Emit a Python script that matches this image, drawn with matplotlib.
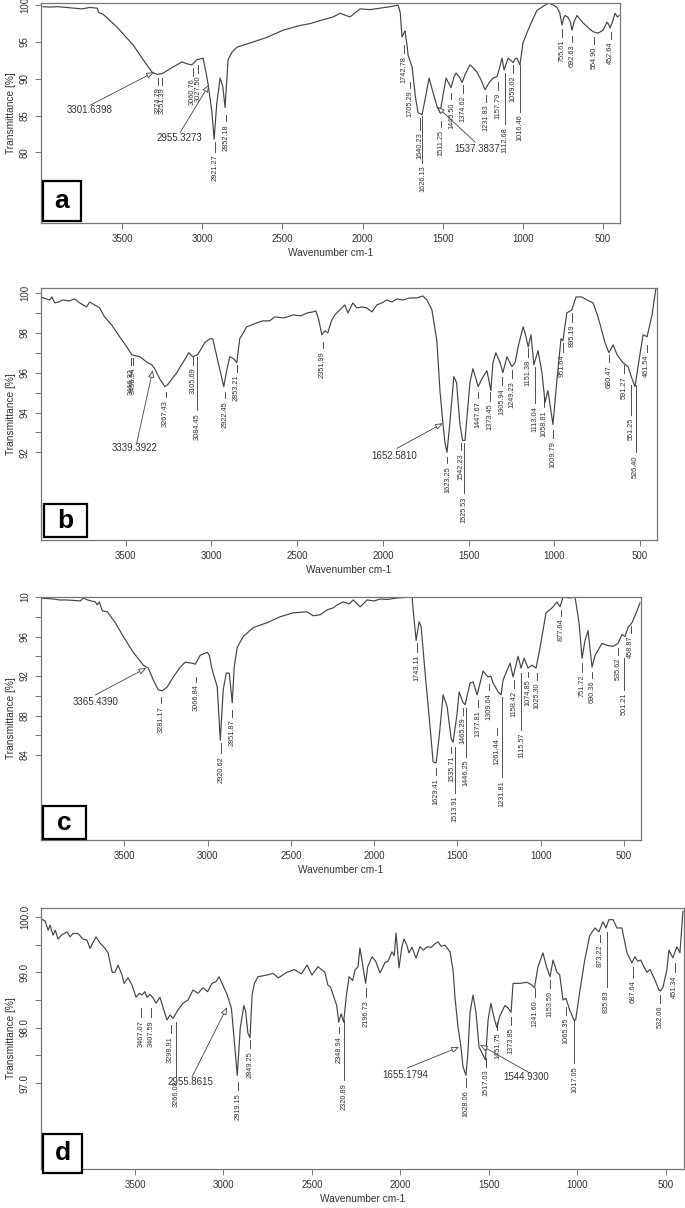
import matplotlib
matplotlib.use('Agg')
import matplotlib.pyplot as plt
from matplotlib.patches import Rectangle
from matplotlib import transforms

plt.rcParams['font.family'] = ['Liberation Sans', 'DejaVu Sans']

# ---- spectrum a ----
wn_a = [3994, 3950, 3900, 3850, 3800, 3750, 3700, 3656, 3645, 3620, 3531, 3431, 3369, 3313, 3282, 3250,
        3182, 3126, 3090, 3064, 3033, 2995, 2976, 2963, 2940, 2926, 2910, 2889, 2872, 2858, 2848, 2839,
        2815, 2783, 2683, 2600, 2496, 2400, 2327, 2250, 2184, 2140, 2078, 2016, 1953, 1890, 1828, 1778,
        1765, 1754, 1740, 1735, 1722, 1716, 1691, 1670, 1654, 1629, 1610, 1585, 1560, 1535, 1517, 1500,
        1479, 1465, 1448, 1430, 1417, 1395, 1379, 1360, 1330, 1310, 1286, 1260, 1236, 1210, 1186, 1161,
        1145, 1130, 1117, 1105, 1092, 1075, 1061, 1048, 1036, 1018, 999, 968, 940, 912, 862, 837,
        810, 787, 770, 756, 745, 737, 720, 705, 693, 680, 662, 640, 625, 600, 580, 562,
        531, 500, 475, 465, 456, 440, 425, 410, 400]
t_a = [99.8, 99.75, 99.8, 99.7, 99.6, 99.5, 99.7, 99.6, 99.0, 98.8, 97.0, 94.6, 92.6, 90.9, 90.6, 90.7,
       91.6, 92.3, 92.0, 91.9, 92.6, 92.8, 90.8, 89.2, 85.5, 81.8, 86.5, 90.1, 89.0, 86.1, 89.5, 92.6,
       93.6, 94.3, 95.0, 95.6, 96.6, 97.2, 97.5, 98.0, 98.4, 98.9, 98.4, 99.5, 99.4, 99.6, 99.8, 100.0,
       99.0, 95.7, 96.3, 96.5, 94.5, 93.2, 91.6, 87.5, 85.4, 85.1, 87.2, 90.1, 88.1, 86.2, 85.4, 87.5,
       90.1, 89.5, 88.8, 90.2, 90.8, 90.2, 89.5, 90.6, 91.9, 91.5, 90.9, 89.8, 88.5, 89.5, 90.1, 90.3,
       91.5, 92.8, 91.2, 92.0, 92.8, 92.5, 92.2, 92.7, 92.8, 91.9, 94.9, 96.6, 98.0, 99.3, 100.0, 100.3,
       100.0, 99.7, 99.0, 97.3, 98.3, 98.6, 98.4, 97.8, 96.6, 97.8, 98.6, 98.0, 97.6, 97.1, 96.7, 96.4,
       96.2, 96.6, 97.7, 97.4, 96.9, 97.8, 98.9, 98.4, 98.6]
# peak marks: wavenumber, dash top, dash bottom (text sits under the dash)
peaks_a = [(3274.79, 90.1, 89.2), (3251.39, 90.1, 89.2), (3060.76, 91.5, 90.4), (3027.50, 91.9, 90.8),
           (2921.27, 81.4, 80.1), (2852.18, 85.1, 84.2), (1742.78, 94.6, 93.5), (1705.29, 89.6, 88.8),
           (1640.23, 84.7, 83.1), (1626.13, 84.9, 78.6), (1511.25, 84.2, 83.4), (1445.50, 88.1, 87.2),
           (1374.62, 89.2, 88.1), (1231.83, 87.8, 86.9), (1157.79, 89.6, 88.5), (1112.68, 90.8, 83.8),
           (1059.02, 91.9, 90.8), (1016.46, 91.9, 85.5), (755.61, 96.8, 95.7), (692.63, 95.8, 95.0),
           (554.90, 95.7, 94.7), (452.64, 96.4, 95.4)]
# arrow notes: text, text x, text y, arrow head x, y, arrow tail x, y
notes_a = [('3301.6398', 3843, 85.8, 3301.6, 90.9, 3700, 86.4),
           ('2955.3273', 3282, 82.0, 2957, 89.2, 3138, 82.7),
           ('1537.3837', 1429, 80.5, 1535, 86.2, 1298, 81.4)]

# ---- spectrum b ----
wn_b = [3996, 3960, 3944, 3930, 3914, 3890, 3868, 3830, 3798, 3768, 3728, 3710, 3681, 3652, 3623, 3582,
        3535, 3494, 3465, 3418, 3372, 3348, 3331, 3302, 3272, 3255, 3202, 3167, 3132, 3109, 3080, 3039,
        3010, 2992, 2963, 2928, 2911, 2893, 2870, 2852, 2835, 2794, 2735, 2700, 2660, 2630, 2584, 2555,
        2525, 2480, 2440, 2409, 2391, 2375, 2356, 2338, 2321, 2300, 2280, 2251, 2222, 2204, 2175, 2152,
        2123, 2094, 2064, 2035, 2006, 1977, 1948, 1918, 1883, 1843, 1802, 1767, 1743, 1714, 1685, 1667,
        1650, 1638, 1626, 1609, 1586, 1570, 1551, 1535, 1521, 1509, 1492, 1475, 1457, 1444, 1422, 1393,
        1370, 1358, 1341, 1316, 1300, 1276, 1247, 1229, 1211, 1182, 1171, 1152, 1136, 1119, 1095, 1072,
        1054, 1037, 1008, 985, 961, 950, 927, 898, 873, 840, 809, 774, 745, 704, 681, 657,
        634, 599, 570, 547, 529, 512, 482, 459, 430, 407]
t_b = [99.8, 99.7, 99.65, 99.8, 99.5, 99.55, 99.65, 99.6, 99.7, 99.5, 99.3, 99.55, 99.4, 99.25, 98.8, 98.4,
       97.8, 97.3, 96.9, 96.8, 96.5, 96.4, 96.2, 95.7, 95.3, 95.4, 96.0, 96.5, 97.0, 96.8, 96.9, 97.5,
       97.7, 97.7, 96.6, 95.3, 96.1, 96.8, 96.7, 96.5, 97.7, 98.3, 98.5, 98.6, 98.6, 98.8, 98.75, 98.8,
       98.9, 98.85, 99.0, 99.05, 99.1, 98.7, 97.9, 98.1, 98.0, 98.6, 98.9, 99.15, 99.4, 99.0, 99.5, 99.25,
       99.3, 99.25, 99.05, 99.4, 99.5, 99.65, 99.55, 99.7, 99.65, 99.75, 99.75, 99.85, 99.65, 99.15, 97.6, 95.1,
       93.5, 92.5, 92.0, 93.5, 95.8, 95.5, 93.45, 92.6, 92.6, 93.8, 95.5, 96.2, 95.7, 95.3, 95.7, 96.1,
       95.1, 96.5, 97.0, 96.5, 96.0, 96.8, 96.3, 96.5, 97.3, 98.3, 98.0, 97.3, 97.9, 96.4, 97.1, 96.0,
       94.5, 95.1, 93.4, 95.6, 97.7, 97.6, 99.0, 99.15, 99.8, 99.8, 99.65, 99.5, 98.8, 97.5, 97.0, 97.4,
       96.9, 96.5, 96.3, 95.7, 95.3, 96.3, 97.9, 97.8, 98.9, 100.25]
peaks_b = [(3466.32, 96.73, 96.38), (3456.54, 96.73, 96.38), (3267.43, 95.02, 94.77), (3105.69, 96.78, 96.38),
           (3084.45, 96.78, 94.11), (2922.45, 95.02, 94.72), (2853.21, 96.38, 96.03), (2351.99, 97.53, 97.23),
           (1623.25, 91.75, 91.45), (1542.23, 92.45, 92.1), (1525.53, 92.45, 89.94), (1447.67, 95.02, 94.72),
           (1373.45, 95.02, 94.6), (1305.94, 95.77, 95.37), (1249.23, 96.13, 95.72), (1151.38, 97.23, 96.78),
           (1113.04, 96.28, 94.47), (1058.81, 94.77, 94.26), (1009.79, 93.1, 92.7), (951.64, 97.48, 97.03),
           (895.19, 98.99, 98.54), (680.47, 96.88, 96.53), (591.27, 96.38, 95.97), (551.25, 95.37, 93.86),
           (526.40, 95.37, 92.0), (461.54, 97.38, 97.03)]
notes_b = [('3339.3922', 3582, 92.2, 3342, 96.13, 3436, 92.45),
           ('1652.5810', 2070, 91.8, 1650, 93.46, 1918, 92.2)]

# ---- spectrum c ----
wn_c = [3998, 3970, 3926, 3890, 3854, 3800, 3764, 3746, 3720, 3674, 3662, 3650, 3632, 3602, 3554, 3506,
        3446, 3386, 3356, 3326, 3296, 3272, 3242, 3206, 3164, 3134, 3092, 3074, 3044, 3002, 2990, 2972,
        2954, 2942, 2924, 2906, 2888, 2870, 2852, 2840, 2822, 2786, 2726, 2642, 2564, 2486, 2402, 2366,
        2324, 2282, 2246, 2222, 2186, 2150, 2126, 2084, 2042, 2000, 1964, 1920, 1862, 1772, 1766, 1748,
        1730, 1718, 1694, 1664, 1646, 1628, 1610, 1586, 1562, 1538, 1526, 1502, 1490, 1466, 1454, 1424,
        1406, 1382, 1346, 1316, 1300, 1286, 1256, 1238, 1226, 1184, 1166, 1136, 1118, 1100, 1076, 1052,
        1028, 1004, 968, 932, 902, 884, 866, 830, 794, 770, 752, 734, 716, 692, 674, 632,
        600, 566, 536, 512, 494, 476, 452, 434, 404]
t_c = [99.9, 99.85, 99.8, 99.7, 99.7, 99.65, 99.6, 99.9, 99.7, 99.5, 99.2, 99.5, 98.6, 98.5, 97.4, 96.0,
       94.4, 93.1, 92.8, 91.6, 90.6, 90.5, 90.9, 91.9, 92.9, 93.4, 93.3, 93.2, 94.1, 94.4, 94.1, 92.6,
       91.6, 90.9, 85.5, 90.6, 92.3, 92.3, 89.3, 92.9, 94.9, 96.0, 96.9, 97.4, 98.0, 98.4, 98.5, 98.1,
       98.2, 98.7, 98.9, 99.2, 99.5, 99.3, 99.7, 99.0, 99.7, 99.6, 99.8, 99.75, 99.9, 100.0, 98.7, 95.6,
       97.5, 97.0, 92.3, 86.8, 83.3, 83.2, 85.8, 90.1, 88.9, 85.7, 85.3, 88.2, 90.4, 89.3, 89.1, 91.3,
       91.4, 90.1, 92.5, 91.9, 92.0, 91.3, 90.4, 90.1, 91.6, 93.3, 91.9, 94.0, 92.8, 93.8, 92.8, 93.1,
       92.8, 94.9, 98.4, 98.9, 99.5, 99.0, 100.0, 99.9, 100.0, 97.4, 93.8, 95.6, 96.6, 92.9, 94.1, 95.3,
       95.1, 95.0, 95.3, 96.2, 96.0, 96.9, 97.4, 98.1, 99.4]
peaks_c = [(3281.17, 89.87, 89.27), (3066.84, 91.9, 91.4), (2920.62, 85.2, 84.2), (2851.87, 88.56, 87.85),
           (1743.11, 95.34, 94.43), (1629.41, 82.68, 81.97), (1535.71, 84.81, 84.2), (1513.91, 84.81, 80.15),
           (1465.29, 88.76, 88.05), (1446.25, 88.76, 83.8), (1377.81, 89.57, 88.86), (1309.64, 91.19, 90.58),
           (1261.44, 86.73, 86.03), (1231.81, 89.87, 81.77), (1158.42, 91.6, 90.79), (1115.57, 92.3, 86.53),
           (1074.85, 92.4, 91.9), (1025.30, 92.3, 91.6), (877.64, 98.68, 98.08), (751.72, 93.32, 92.41),
           (690.36, 92.4, 91.8), (535.62, 94.84, 94.13), (501.21, 93.82, 90.58), (458.87, 97.06, 96.35)]
notes_c = [('3365.4390', 3812, 89.37, 3368, 92.81, 3674, 90.08)]

# ---- spectrum d ----
wn_d = [4031, 4008, 3991, 3980, 3963, 3950, 3935, 3915, 3884, 3867, 3850, 3822, 3794, 3771, 3754, 3737,
        3720, 3698, 3669, 3652, 3629, 3613, 3596, 3573, 3562, 3539, 3517, 3494, 3475, 3460, 3445, 3432,
        3415, 3398, 3381, 3359, 3342, 3319, 3302, 3285, 3257, 3229, 3200, 3172, 3144, 3116, 3090, 3065,
        3042, 3025, 3008, 2980, 2955, 2940, 2922, 2905, 2885, 2875, 2862, 2850, 2838, 2825, 2805, 2754,
        2720, 2690, 2641, 2600, 2560, 2528, 2500, 2466, 2427, 2410, 2395, 2360, 2349, 2335, 2321, 2305,
        2290, 2270, 2257, 2240, 2229, 2197, 2185, 2161, 2140, 2116, 2088, 2070, 2048, 2035, 2025, 2008,
        1992, 1980, 1965, 1952, 1935, 1912, 1890, 1870, 1850, 1825, 1810, 1788, 1770, 1749, 1720, 1703,
        1692, 1675, 1658, 1647, 1630, 1619, 1607, 1590, 1573, 1556, 1540, 1520, 1505, 1489, 1472, 1455,
        1440, 1410, 1393, 1375, 1364, 1325, 1285, 1257, 1243, 1223, 1195, 1175, 1155, 1138, 1116, 1100,
        1082, 1065, 1044, 1020, 1010, 988, 959, 930, 901, 879, 856, 839, 822, 799, 777, 749,
        720, 692, 675, 660, 642, 625, 607, 590, 562, 540, 532, 517, 495, 483, 461, 438,
        421, 404]
t_d = [99.96, 99.93, 99.76, 99.85, 99.67, 99.76, 99.6, 99.67, 99.73, 99.64, 99.7, 99.7, 99.6, 99.58, 99.43, 99.54,
       99.64, 99.53, 99.43, 99.35, 99.0, 99.0, 99.13, 98.95, 98.8, 98.9, 98.77, 98.55, 98.62, 98.59, 98.65, 98.55,
       98.6, 98.54, 98.44, 98.55, 98.37, 98.14, 98.23, 98.17, 98.32, 98.44, 98.5, 98.68, 98.62, 98.72, 98.65, 98.8,
       98.83, 98.92, 98.8, 98.6, 98.35, 97.8, 97.14, 98.0, 98.4, 98.3, 97.9, 97.82, 98.6, 98.8, 98.92, 98.95,
       98.98, 98.9, 99.0, 99.05, 98.97, 99.13, 98.95, 99.1, 99.0, 98.77, 98.73, 98.4, 98.1, 98.25, 98.1, 98.6,
       98.92, 98.85, 99.04, 99.1, 99.44, 98.8, 99.1, 99.28, 99.2, 98.99, 99.17, 99.2, 99.37, 99.3, 99.71, 99.08,
       99.46, 99.6, 99.5, 99.35, 99.45, 99.26, 99.46, 99.4, 99.46, 99.45, 99.5, 99.55, 99.47, 99.49, 99.37, 99.04,
       98.55, 98.01, 97.65, 97.3, 97.14, 97.54, 98.27, 98.59, 98.27, 97.65, 97.55, 97.42, 98.14, 98.44, 98.19, 98.0,
       98.2, 98.4, 98.36, 98.28, 98.8, 98.8, 98.82, 98.77, 98.72, 99.1, 99.35, 99.1, 98.92, 99.22, 99.0, 98.95,
       98.5, 98.53, 98.32, 98.14, 98.14, 98.63, 99.22, 99.67, 99.8, 99.73, 99.91, 99.8, 99.95, 99.95, 99.8, 99.8,
       99.35, 99.17, 99.28, 99.2, 99.22, 99.1, 99.0, 99.05, 98.86, 98.68, 98.66, 98.73, 99.04, 99.4, 99.26, 99.46,
       99.35, 100.1]
peaks_d = [(3467.07, 98.36, 98.19), (3407.59, 98.36, 98.19), (3298.91, 98.05, 97.9), (3266.08, 98.1, 97.11),
           (2919.15, 97.02, 96.87), (2849.25, 97.78, 97.63), (2348.94, 98.01, 97.9), (2320.89, 98.14, 97.05),
           (2196.73, 98.72, 98.55), (1628.06, 97.09, 96.93), (1517.03, 97.45, 97.29), (1451.75, 98.1, 97.96),
           (1373.85, 98.19, 98.05), (1241.60, 98.72, 98.55), (1153.59, 98.86, 98.72), (1065.35, 98.37, 98.23),
           (1017.05, 98.14, 97.36), (873.22, 99.67, 99.55), (835.83, 99.73, 98.73), (687.64, 99.1, 98.9),
           (532.06, 98.59, 98.45), (451.34, 99.17, 99.0)]
notes_d = [('2955.8615', 3314, 97.02, 2980, 98.37, 3178, 97.11),
           ('1655.1794', 2105, 97.14, 1669, 97.65, 1963, 97.27),
           ('1544.9300', 1421, 97.11, 1551, 97.69, 1268, 97.18)]

x_ticks = [3500, 3000, 2500, 2000, 1500, 1000, 500]

W, H = 685, 1208
fig = plt.figure(figsize=(W / 100, H / 100), dpi=100)


def px_rect(l, t, r, b):
    return [l / W, 1 - b / H, (r - l) / W, (b - t) / H]


LINE = '#444444'
TXT = '#333333'
FRAME = '#777777'

panels = [
    dict(box=(41, 3, 620, 223), x=wn_a, y=t_a, xlim=(4006, 394), ylim=(70.4, 100.3),
         yt=[80, 85, 90, 95, 100], yl=['80', '85', '90', '95', '100'],
         peaks=peaks_a, notes=notes_a, letter='a', lbox=(43, 181, 81, 221)),
    dict(box=(41, 288, 657, 540), x=wn_b, y=t_b, xlim=(3994, 401), ylim=(87.6, 100.25),
         yt=[92, 93, 94, 95, 96, 97, 98, 99, 100], yl=['92', '', '94', '', '96', '', '98', '', '100'],
         peaks=peaks_b, notes=notes_b, letter='b', lbox=(44, 504, 87, 537)),
    dict(box=(41, 597, 641, 840), x=wn_c, y=t_c, xlim=(4000, 398), ylim=(75.4, 100.0),
         yt=[84, 86, 88, 90, 92, 94, 96, 98, 100], yl=['84', '', '88', '', '92', '', '96', '', '10'],
         peaks=peaks_c, notes=notes_c, letter='c', lbox=(43, 806, 86, 839)),
    dict(box=(41, 908, 684, 1169), x=wn_d, y=t_d, xlim=(4031, 398), ylim=(95.45, 100.16),
         yt=[97.0, 97.5, 98.0, 98.5, 99.0, 99.5, 100.0], yl=['97.0', '', '98.0', '', '99.0', '', '100.0'],
         peaks=peaks_d, notes=notes_d, letter='d', lbox=(43, 1134, 82, 1173)),
]

for p in panels:
    ax = fig.add_axes(px_rect(*p['box']))
    ax.plot(p['x'], p['y'], color=LINE, lw=0.85)
    ax.set_xlim(p['xlim'])
    ax.set_ylim(p['ylim'])
    ax.set_xticks(x_ticks)
    ax.set_xticklabels([str(v) for v in x_ticks])
    ax.set_yticks(p['yt'])
    ax.set_yticklabels(p['yl'], rotation=90, va='center')
    ax.tick_params(direction='out', length=4, width=0.7, color=FRAME, labelsize=7,
                   labelcolor=TXT, pad=4)
    for s in ax.spines.values():
        s.set_color(FRAME)
        s.set_linewidth(0.9)
    ax.set_xlabel('Wavenumber cm-1', fontsize=7.3, color=TXT, labelpad=3)
    ax.set_ylabel('Transmittance [%]', fontsize=7.3, color=TXT, labelpad=3)

    below = transforms.offset_copy(ax.transData, fig=fig, y=-2, units='points')
    for w, y0, y1 in p['peaks']:
        ax.plot([w, w], [y0, y1], color=TXT, lw=0.6)
        ax.text(w, y1, f'{w:.2f}', transform=below, rotation=90, ha='center', va='top',
                fontsize=5.3, color=TXT)
    for txt, tx, ty, hx, hy, sx, sy in p['notes']:
        ax.annotate('', xy=(hx, hy), xytext=(sx, sy),
                    arrowprops=dict(arrowstyle='-|>,head_length=0.45,head_width=0.18',
                                    color=LINE, lw=0.6, fc='white', shrinkA=0, shrinkB=0))
        ax.text(tx, ty, txt, ha='left', va='center', fontsize=7, color=TXT)

    l, t, r, b = p['lbox']
    fig.add_artist(Rectangle((l / W, 1 - b / H), (r - l) / W, (b - t) / H,
                             transform=fig.transFigure, facecolor='white',
                             edgecolor='black', lw=1.6, zorder=5))
    fig.text((l + r) / 2 / W, 1 - (t + b) / 2 / H, p['letter'], ha='center', va='center',
             fontsize=19, fontweight='bold', color='black', zorder=6)

fig.savefig('out.png', dpi=100)
